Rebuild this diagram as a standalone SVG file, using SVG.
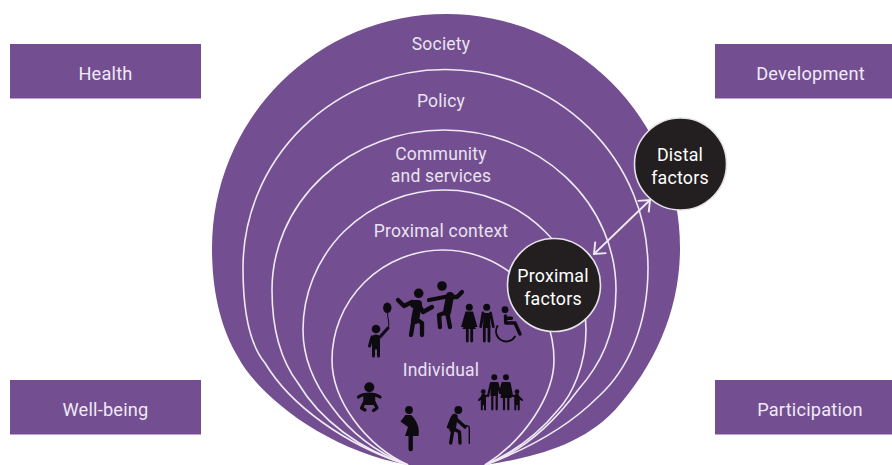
<svg xmlns="http://www.w3.org/2000/svg" width="892" height="465" viewBox="0 0 892 465">
<style>
text{font-family:"Roboto","Liberation Sans",sans-serif;font-size:17.500px;text-anchor:middle;letter-spacing:.2px}
.l{fill:#e9e3f0}
.b{font-size:18.200px;fill:#efeaf4}
.w{fill:#fff;font-size:17.800px}
.box{fill:#734e91}
.ring{fill:none;stroke:#efeaf3;stroke-width:1.600}
.dark{fill:#231f20;stroke:#e6e3e8;stroke-width:1.600}
.i{fill:none;stroke:#0d0b0f;stroke-width:3.200;stroke-linecap:round;stroke-linejoin:round}
.t{stroke-width:6}
.n{stroke-width:1}
.f{fill:#0d0b0f;stroke:none}
.arrow{fill:none;stroke:#efeaf3;stroke-width:1.800}
</style>
<defs>
<marker id="chev" markerUnits="userSpaceOnUse" markerWidth="26" markerHeight="26" refX="13" refY="13" orient="auto-start-reverse">
<path d="M3.500 5L13 13L3.500 21" fill="none" stroke="#efeaf3" stroke-width="1.900"/>
</marker>
</defs>
<g id="health"><rect class="box" x="10" y="44" width="191" height="54.500"/><text class="b" x="105.500" y="79.500">Health</text></g>
<g id="development"><rect class="box" x="715" y="44" width="177" height="54.500"/><text class="b" x="810.500" y="79.500">Development</text></g>
<g id="well-being"><rect class="box" x="10" y="380" width="191" height="54.500"/><text class="b" x="105.500" y="415.500">Well-being</text></g>
<g id="participation"><rect class="box" x="715" y="380" width="177" height="54.500"/><text class="b" x="810" y="415.500">Participation</text></g>

<g id="society"><path class="box" d="M212 248A234 234 0 0 1 680 248C680 310 655 365 615 410C580 447 530 458 484 465L408 465C325 450 258 395 238 357C222 330 212 295 212 248Z"/><text class="l" x="441" y="49.700">Society</text></g>
<g id="policy"><path class="ring" d="M243 268A202.500 198.500 0 0 1 648 268C648 325 628 370 598 397C565 430 525 450 485 465M243 268C243 310 250 345 265 363C290 405 345 445 408 465"/><text class="l" x="441" y="106.700">Policy</text></g>
<g id="community"><path class="ring" d="M272 290A172 160 0 0 1 616 290C616 335 600 365 578 390C552 425 522 452 485 465M272 290C272 330 282 362 298 383C320 420 360 450 408 465"/><text class="l" x="441" y="160">Community</text><text class="l" x="441" y="182.300">and services</text></g>
<g id="proximal-context"><path class="ring" d="M303 330A141.500 140 0 0 1 586 330C586 365 572 395 558 410C540 432 515 452 485 465M303 330C303 360 315 385 332 407C350 432 375 452 408 465"/><text class="l" x="441" y="236.700">Proximal context</text></g>
<g id="individual"><path class="ring" d="M332 360A111 110 0 0 1 554 360C554 395 525 440 485 465M332 360C332 400 365 445 408 465"/><text class="l" x="441" y="376">Individual</text>
<g id="people">
<circle class="f" cx="376" cy="329" r="4.300"/><ellipse class="f" cx="387.300" cy="307.700" rx="4.200" ry="5.200"/><path class="i n" d="M387.500 312C387 318 390 322 388.500 328"/><path class="i" d="M369.500 346L372 337H380L388 328M373.500 340V356M378.500 340V356" style="stroke-width:3"/><path class="i t" d="M376 338V346" style="stroke-width:7"/>
<circle class="f" cx="418.700" cy="293.300" r="4.800"/><path class="i" d="M398 300L404 306L412 302M418 303L423 312L432 307M411 335L413 323M416 319L422 323L422 335" style="stroke-width:4.300"/><path class="i t" d="M414 304L418 304L415 320" style="stroke-width:8"/>
<circle class="f" cx="442" cy="286" r="4.800"/><path class="i" d="M429 300L450 296M452 297L457 297L462 292M447 312L439 315L440 327M447 312L450 327" style="stroke-width:4.300"/><path class="i t" d="M450 296L447 312" style="stroke-width:8"/>
<circle class="f" cx="469.300" cy="307.300" r="3.500"/><path class="f" d="M465.500 311.500H473L477.500 327H475L476 329H462.500L463.500 327H461Z"/><path class="i" d="M467.300 328V341M471.700 328V341" style="stroke-width:2.800"/>
<circle class="f" cx="486.700" cy="307.300" r="3.500"/><path class="i" d="M483 313L480.700 326.700M490.500 313L493.300 326.700M484.300 326V341M489 326V341" style="stroke-width:2.800"/><path class="i t" d="M486.700 313V328" style="stroke-width:7;stroke-linecap:butt"/>
<circle class="f" cx="505" cy="309.700" r="3.400"/><path class="i" d="M505.500 316L505.700 323H515L520 334M505.700 318.300H511.500" style="stroke-width:3.400"/><path class="i" d="M497.500 326A9.500 9.500 0 1 0 515 336.500" style="stroke-width:1.800"/>
<circle class="f" cx="369.300" cy="387.300" r="5"/><path class="i" d="M358.500 397C364 393 374 393 380 397"/><path class="f" d="M363.500 393H375L375.500 405H363Z"/><path class="i" d="M364 403L361.500 408L365 410M374.500 403L377 408L373.500 410.500" style="stroke-width:3.200"/>
<circle class="f" cx="409" cy="410" r="3.900"/><path class="f" d="M405.500 415H411C417 420 420 429 418.500 436H405L408 427L400.500 421.500Z"/><path class="i" d="M410.700 436V449" style="stroke-width:4.400"/>
<circle class="f" cx="458.300" cy="410" r="3.900"/><path class="i t" d="M454.500 417L452.500 429" style="stroke-width:6.500"/><path class="i" d="M452 418L448.500 427M455 418L465 427M453 429L450.700 443M454 429L459.500 432L460 443" style="stroke-width:3.400"/><path class="i" d="M465 426.500L467 425.500L469.300 427V443.300" style="stroke-width:1.400"/>
<circle class="f" cx="494.300" cy="377.300" r="3"/><circle class="f" cx="506" cy="377.300" r="3"/><path class="i" d="M491 383L488 396M497.500 383L500 393M502.500 383L500 393M509.500 383L512 396M492.300 392V409.300M496.700 392V409.300M504 395V409.300M508.300 395V409.300" style="stroke-width:2.200"/><path class="f" d="M490.500 382H498V396H490.500ZM502 382H509.500L511.500 398H500.500Z"/>
<circle class="f" cx="483.300" cy="391.700" r="2.400"/><path class="i" d="M488 396L483.300 395.500L479 400M481.800 397V409.500M485 397V409.500" style="stroke-width:2"/><path class="i" d="M483.400 396V403" style="stroke-width:4.500"/>
<circle class="f" cx="517" cy="391.700" r="2.400"/><path class="i" d="M512 396L517 395.500L522 400M515.300 397V409.500M518.700 397V409.500" style="stroke-width:2"/><path class="i" d="M517 396V403" style="stroke-width:4.500"/>
</g></g>
<g id="proximal-factors"><circle class="dark" cx="554" cy="285" r="46.500"/><text class="w" x="553" y="282">Proximal</text><text class="w" x="553" y="304.500">factors</text></g>
<g id="distal-factors"><circle class="dark" cx="680.500" cy="164" r="46"/><text class="w" x="680" y="161">Distal</text><text class="w" x="680" y="184">factors</text></g>
<g id="connectors"><path class="arrow" d="M594 254L650 200" marker-start="url(#chev)" marker-end="url(#chev)"/></g>
</svg>
